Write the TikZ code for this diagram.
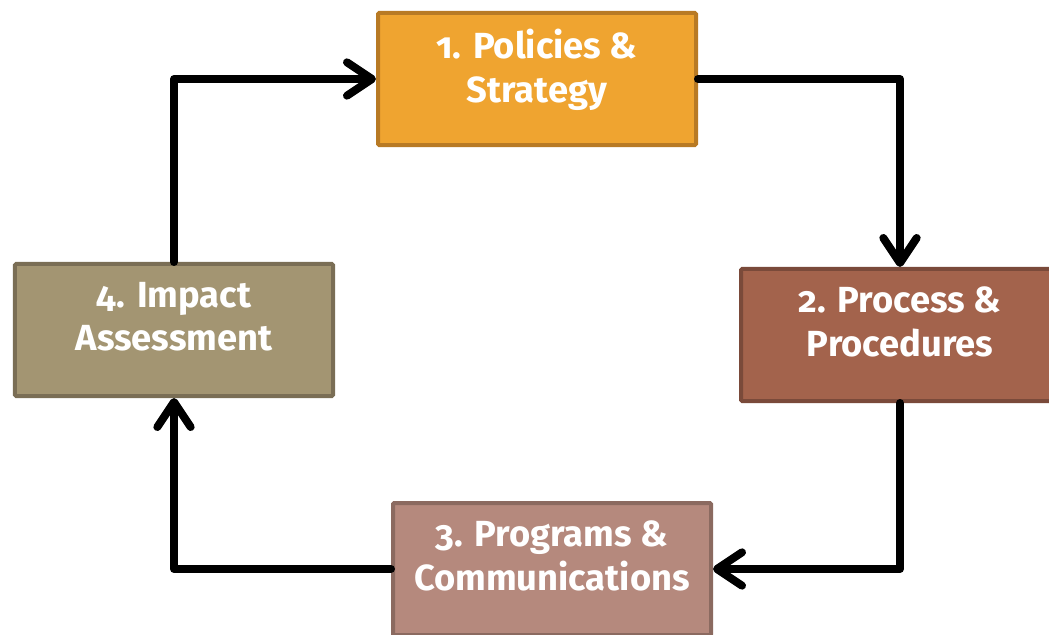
\documentclass[tikz,border=0pt]{standalone}
\usepackage{fontspec}
\setmainfont{Fira Sans}[Numbers=OldStyle]
\usetikzlibrary{arrows.meta}

\definecolor{policyfill}{RGB}{239,164,48}
\definecolor{policyline}{RGB}{184,122,36}
\definecolor{processfill}{RGB}{163,99,76}
\definecolor{processline}{RGB}{122,74,58}
\definecolor{programfill}{RGB}{181,137,125}
\definecolor{programline}{RGB}{139,106,96}
\definecolor{impactfill}{RGB}{163,149,114}
\definecolor{impactline}{RGB}{122,110,85}

\begin{document}
\begin{tikzpicture}[
        x                 = 0.03cm,
        y                 = 0.03cm,
        stage/.style      = {draw, rectangle, line width=0.12cm, rounded corners=1pt,
                             minimum width=9.54cm, minimum height=3.96cm, align=center,
                             text=white, text depth=0.8cm,
                             font=\fontsize{31}{37}\selectfont\bfseries},
        flow/.style       = {draw, black, line width=0.24cm, line cap=round, line join=round,
                             -{Straight Barb[length=0.75cm, width=1cm, round]}},
      ]
        \useasboundingbox (0,0) rectangle (1049,634);

        % the four stages of the cycle
        \node[stage, fill=policyfill, draw=policyline]   (policies) at (537,555) {1. Policies \&\\Strategy};
        \node[stage, fill=processfill, draw=processline] (process)  at (900,299) {2. Process \&\\Procedures};
        \node[stage, fill=programfill, draw=programline] (programs) at (552,65)  {3. Programs \&\\Communications};
        \node[stage, fill=impactfill, draw=impactline]   (impact)   at (174,304) {4. Impact\\Assessment};

        % clockwise loop
        \draw[flow] (policies.east) -| (process.north);
        \draw[flow] (process.south) |- (programs.east);
        \draw[flow] (programs.west) -| (impact.south);
        \draw[flow] (impact.north) |- (policies.west);
    \end{tikzpicture}
\end{document}
